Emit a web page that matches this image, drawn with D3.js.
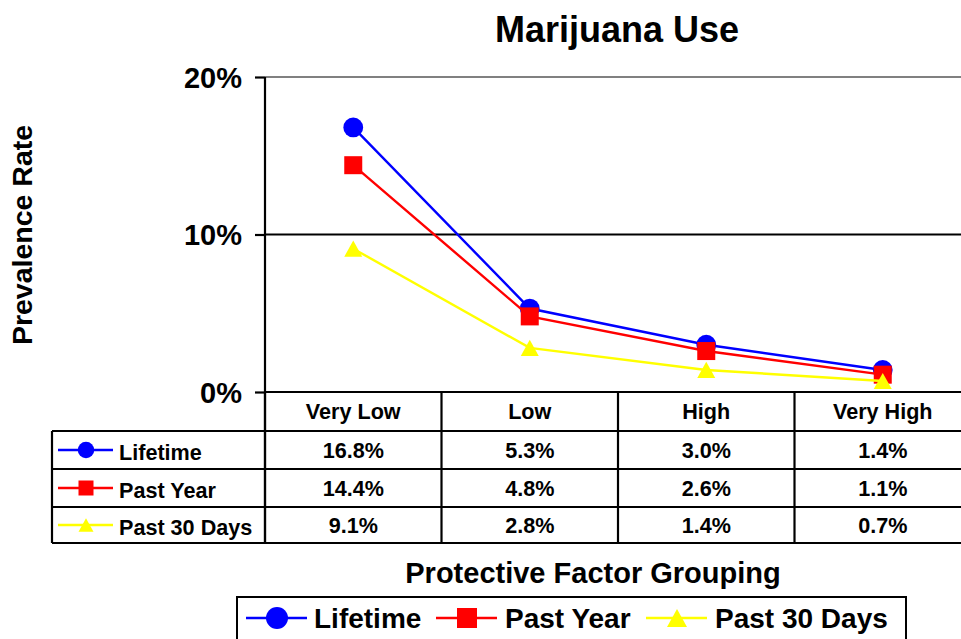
<!DOCTYPE html>
<html>
<head>
<meta charset="utf-8">
<script src="https://cdn.jsdelivr.net/npm/d3@7"></script>
<style>
  html, body { margin: 0; padding: 0; background: #fff; }
  svg { display: block; font-family: "Liberation Sans", Arial, Helvetica, sans-serif; font-weight: bold; }
</style>
</head>
<body>
<svg id="chart" width="961" height="639"></svg>
<script>
// Prevalence of marijuana use by protective factor grouping
const categories = ["Very Low", "Low", "High", "Very High"];
const lifetime = [16.8, 5.3, 3.0, 1.4];
const pastYear = [14.4, 4.8, 2.6, 1.1];
const past30Days = [9.1, 2.8, 1.4, 0.7];
const seriesNames = ["Lifetime", "Past Year", "Past 30 Days"];
const seriesColors = ["#0000ff", "#ff0000", "#ffff00"];
const seriesShapes = ["circle", "square", "triangle"];
const yTicks = [0, 10, 20];

const series = [lifetime, pastYear, past30Days].map((values, i) => ({
  name: seriesNames[i], values, color: seriesColors[i], shape: seriesShapes[i]
}));

const svg = d3.select("#chart");

const plot = { left: 265, right: 971, top: 77, bottom: 392 };
const x = d3.scaleBand().domain(categories).range([plot.left, plot.right]);
const y = d3.scaleLinear().domain([0, 20]).range([plot.bottom, plot.top]);
const cx = c => x(c) + x.bandwidth() / 2;

// marker shapes
function drawMarker(g, shape, px, py, color, s) {
  if (shape === "circle") {
    g.append("circle").attr("cx", px).attr("cy", py).attr("r", s * 0.55).attr("fill", color);
  } else if (shape === "square") {
    g.append("rect").attr("x", px - s / 2).attr("y", py - s / 2)
      .attr("width", s).attr("height", s).attr("fill", color);
  } else {
    const hw = s / 2, hh = s * 0.45;
    g.append("path")
      .attr("d", `M${px},${py - hh}L${px + hw},${py + hh}L${px - hw},${py + hh}Z`)
      .attr("fill", color);
  }
}

// title
svg.append("text").attr("x", 617).attr("y", 42).attr("text-anchor", "middle")
  .attr("font-size", 36).text("Marijuana Use");

// y axis title
svg.append("text").attr("transform", "translate(32,235) rotate(-90)")
  .attr("text-anchor", "middle").attr("font-size", 28.5).text("Prevalence Rate");

// gridlines
svg.append("g").selectAll("line").data(yTicks.filter(t => t > 0)).join("line")
  .attr("x1", plot.left).attr("x2", plot.right)
  .attr("y1", d => y(d)).attr("y2", d => y(d))
  .attr("stroke", d => d === 20 ? "#808080" : "#000")
  .attr("stroke-width", 2.2);

// y axis with ticks and labels
const yAxis = d3.axisLeft(y).tickValues(yTicks).tickSize(10).tickPadding(13)
  .tickFormat(d => d + "%");
const gy = svg.append("g").attr("transform", `translate(${plot.left},0)`).call(yAxis);
gy.select(".domain").remove();
gy.selectAll(".tick line").attr("stroke", "#000").attr("stroke-width", 2.2);
gy.selectAll(".tick text").attr("font-size", 29).attr("font-family", "Liberation Sans, Arial, sans-serif")
  .attr("font-weight", "bold").attr("fill", "#000").attr("dy", "0.36em");

// series lines and markers
const line = d3.line().x((d, i) => cx(categories[i])).y(d => y(d));
series.forEach(s => {
  const g = svg.append("g");
  g.append("path").attr("d", line(s.values)).attr("fill", "none")
    .attr("stroke", s.color).attr("stroke-width", 2.4);
  s.values.forEach((v, i) => drawMarker(g, s.shape, cx(categories[i]), y(v), s.color, 18));
});

// data table
const rowEdges = [392, 431, 469, 507, 543];
const tableLeft = 52;
const tbl = svg.append("g");
// header labels
categories.forEach(c => {
  tbl.append("text").attr("x", cx(c)).attr("y", (rowEdges[0] + rowEdges[1]) / 2)
    .attr("dy", "0.36em").attr("text-anchor", "middle").attr("font-size", 21.6).text(c);
});
// value rows
series.forEach((s, r) => {
  const ym = (rowEdges[r + 1] + rowEdges[r + 2]) / 2;
  tbl.append("line").attr("x1", 58).attr("x2", 113).attr("y1", ym).attr("y2", ym)
    .attr("stroke", s.color).attr("stroke-width", 2.4);
  drawMarker(tbl, s.shape, 86, ym, s.color, 15);
  tbl.append("text").attr("x", 119).attr("y", ym + 2).attr("dy", "0.36em")
    .attr("font-size", 21.6).text(s.name);
  s.values.forEach((v, i) => {
    tbl.append("text").attr("x", cx(categories[i])).attr("y", ym).attr("dy", "0.36em")
      .attr("text-anchor", "middle").attr("font-size", 21.6).text(v.toFixed(1) + "%");
  });
});
// table borders
function hline(x1, x2, yy) {
  tbl.append("line").attr("x1", x1).attr("x2", x2).attr("y1", yy).attr("y2", yy)
    .attr("stroke", "#000").attr("stroke-width", 2.2);
}
function vline(xx, y1, y2) {
  tbl.append("line").attr("x1", xx).attr("x2", xx).attr("y1", y1).attr("y2", y2)
    .attr("stroke", "#000").attr("stroke-width", 2.2);
}
hline(plot.left, plot.right, rowEdges[0]);
rowEdges.slice(1).forEach(yy => hline(tableLeft, plot.right, yy));
vline(tableLeft, rowEdges[1], rowEdges[4]);
categories.forEach(c => vline(x(c), rowEdges[0], rowEdges[4]));
vline(plot.right, rowEdges[0], rowEdges[4]);
// y axis line through plot and table header
vline(plot.left, plot.top, rowEdges[4]);

// x axis title
svg.append("text").attr("x", 593).attr("y", 583).attr("text-anchor", "middle")
  .attr("font-size", 29).text("Protective Factor Grouping");

// legend
const legend = svg.append("g");
legend.append("rect").attr("x", 237).attr("y", 597).attr("width", 669).attr("height", 60)
  .attr("fill", "#fff").attr("stroke", "#000").attr("stroke-width", 2);
const legendItems = [
  { lx: 246, tx: 314 },
  { lx: 436, tx: 505 },
  { lx: 646, tx: 715 }
];
series.forEach((s, i) => {
  const it = legendItems[i], ly = 618;
  legend.append("line").attr("x1", it.lx).attr("x2", it.lx + 61).attr("y1", ly).attr("y2", ly)
    .attr("stroke", s.color).attr("stroke-width", 2.5);
  drawMarker(legend, s.shape, it.lx + 31, ly, s.color, 20);
  legend.append("text").attr("x", it.tx).attr("y", ly).attr("dy", "0.36em")
    .attr("font-size", 28).text(s.name);
});
</script>
</body>
</html>
